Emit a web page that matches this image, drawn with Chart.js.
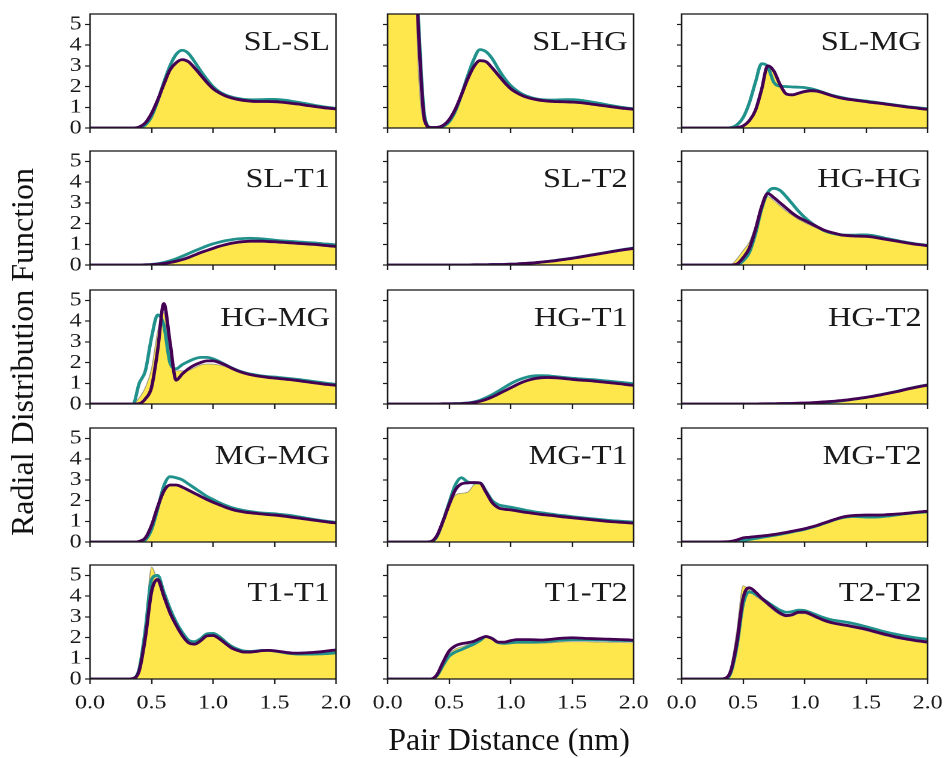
<!DOCTYPE html>
<html>
<head>
<meta charset="utf-8">
<script src="https://cdn.jsdelivr.net/npm/chart.js@4.4.1/dist/chart.umd.min.js"></script>
<style>
  html, body { margin: 0; padding: 0; background: #fff; width: 945px; height: 758px; overflow: hidden; }
  #fig { position: absolute; left: 0; top: 0; width: 788px; height: 758px; transform: scaleX(1.2); transform-origin: 0 0; }
  #fig canvas { position: absolute; }
  .title { position: absolute; font-family: "Liberation Serif", "Times New Roman", serif; font-size: 32px; line-height: 1; color: #111; white-space: nowrap; }
  #xtitle { left: 509px; top: 723px; transform: translateX(-50%); }
  #ytitle { left: 22px; top: 352px; transform: translate(-50%, -50%) rotate(-90deg); }
</style>
</head>
<body>
<div id="fig"></div>
<div class="title" id="xtitle">Pair Distance (nm)</div>
<div class="title" id="ytitle">Radial Distribution Function</div>
<script>
// ─── Data (pair distance grid, nm) ─────────────────────────────
const distances = [
  0.00, 0.05, 0.10, 0.15, 0.20, 0.25, 0.30, 0.35, 0.40, 0.45,
  0.50, 0.55, 0.60, 0.65, 0.70, 0.75, 0.80, 0.85, 0.90, 0.95,
  1.00, 1.05, 1.10, 1.15, 1.20, 1.25, 1.30, 1.35, 1.40, 1.45,
  1.50, 1.55, 1.60, 1.65, 1.70, 1.75, 1.80, 1.85, 1.90, 1.95, 2.00
];
const pairs = ['SL-SL', 'SL-HG', 'SL-MG', 'SL-T1', 'SL-T2', 'HG-HG', 'HG-MG', 'HG-T1', 'HG-T2',
               'MG-MG', 'MG-T1', 'MG-T2', 'T1-T1', 'T1-T2', 'T2-T2'];
const xTicks = [0.0, 0.5, 1.0, 1.5, 2.0];
const yTicks = [0, 1, 2, 3, 4, 5];

// SL-SL
const slSlYellow = [0,0,0,0,0,0,0,0,0.02,0.18, 0.6,1.3,2.05,2.75,3.1,3.25,3.15,2.85,2.5,2.17, 1.87,1.67,1.52,1.42,1.35,1.3,1.27,1.25,1.25,1.25, 1.24,1.22,1.19,1.15,1.12,1.07,1.03,0.99,0.95,0.92,0.89];
const slSlTeal   = [0,0,0,0,0,0,0,0,0.02,0.15, 0.55,1.3,2.2,3.0,3.55,3.75,3.6,3.2,2.75,2.35, 2.0,1.75,1.6,1.5,1.43,1.38,1.36,1.36,1.37,1.38, 1.38,1.36,1.33,1.28,1.23,1.18,1.12,1.07,1.02,0.98,0.95];
const slSlPurple = [0,0,0,0,0,0,0,0,0.05,0.25, 0.7,1.35,2.1,2.8,3.15,3.3,3.2,2.9,2.55,2.2, 1.9,1.7,1.55,1.45,1.38,1.33,1.3,1.28,1.28,1.28, 1.27,1.25,1.22,1.18,1.15,1.1,1.06,1.02,0.98,0.95,0.92];
// SL-HG
const slHgYellow = [12,12,12,12,12,2.8,0.2,0.01,0.03,0.12, 0.4,0.88,1.55,2.3,2.9,3.2,3.15,2.85,2.5,2.17, 1.87,1.67,1.52,1.42,1.35,1.3,1.27,1.25,1.24,1.23, 1.22,1.2,1.17,1.13,1.09,1.05,1.01,0.97,0.93,0.9,0.87];
const slHgTeal   = [12,12,12,12,12,5.3,0.6,0.03,0.02,0.08, 0.3,0.8,1.6,2.5,3.3,3.78,3.68,3.35,2.85,2.4, 2.05,1.8,1.62,1.5,1.42,1.37,1.35,1.35,1.36,1.37, 1.37,1.35,1.31,1.26,1.21,1.16,1.1,1.05,1.0,0.96,0.93];
const slHgPurple = [12,12,12,12,12,4.8,0.4,0.02,0.03,0.12, 0.4,0.9,1.6,2.35,2.95,3.25,3.2,2.9,2.55,2.2, 1.9,1.7,1.55,1.45,1.38,1.33,1.3,1.28,1.27,1.26, 1.25,1.23,1.2,1.16,1.12,1.08,1.04,1.0,0.96,0.93,0.9];
// SL-MG
const slMgYellow = [0,0,0,0,0,0,0,0,0,0, 0.05,0.3,0.8,1.8,2.9,2.65,2.0,1.58,1.55,1.62, 1.7,1.75,1.73,1.65,1.56,1.48,1.41,1.36,1.32,1.28, 1.24,1.2,1.17,1.13,1.09,1.05,1.01,0.97,0.94,0.9,0.87];
const slMgTeal   = [0,0,0,0,0,0,0,0,0.02,0.15, 0.5,1.2,2.2,3.1,2.95,2.2,2.02,2.0,1.98,1.97, 1.95,1.9,1.82,1.72,1.62,1.54,1.47,1.41,1.37,1.33, 1.3,1.26,1.22,1.18,1.14,1.1,1.06,1.02,0.99,0.96,0.93];
const slMgPurple = [0,0,0,0,0,0,0,0,0,0.02, 0.1,0.35,0.85,1.85,3.0,2.75,2.1,1.65,1.6,1.68, 1.76,1.8,1.78,1.7,1.6,1.51,1.44,1.39,1.35,1.31, 1.27,1.23,1.2,1.16,1.12,1.08,1.04,1.0,0.97,0.93,0.9];
// SL-T1
const slT1Yellow = [0,0,0,0,0,0,0,0,0,0, 0.02,0.04,0.07,0.12,0.18,0.26,0.36,0.48,0.6,0.7, 0.8,0.89,0.97,1.04,1.09,1.12,1.14,1.14,1.13,1.12, 1.1,1.08,1.06,1.04,1.02,1.0,0.98,0.96,0.93,0.9,0.87];
const slT1Teal   = [0,0,0,0,0,0,0,0,0,0.01, 0.03,0.06,0.12,0.2,0.3,0.42,0.55,0.68,0.8,0.92, 1.02,1.1,1.17,1.22,1.26,1.28,1.29,1.28,1.26,1.23, 1.2,1.17,1.15,1.13,1.11,1.09,1.07,1.05,1.02,1.0,0.97];
const slT1Purple = [0,0,0,0,0,0,0,0,0,0.01, 0.02,0.04,0.07,0.12,0.18,0.26,0.36,0.48,0.6,0.7, 0.8,0.9,0.98,1.05,1.1,1.13,1.15,1.15,1.15,1.13, 1.12,1.1,1.08,1.06,1.04,1.02,1.0,0.98,0.95,0.92,0.9];
// SL-T2
const slT2Yellow = [0,0,0,0,0,0,0,0,0,0, 0,0,0,0,0.01,0.01,0.01,0.01,0.02,0.02, 0.03,0.04,0.06,0.08,0.1,0.13,0.16,0.19,0.23,0.27, 0.31,0.35,0.4,0.45,0.5,0.55,0.6,0.64,0.68,0.72,0.76];
const slT2Teal   = [0,0,0,0,0,0,0,0,0,0, 0,0,0,0,0.01,0.01,0.01,0.02,0.02,0.03, 0.04,0.05,0.07,0.09,0.11,0.14,0.17,0.21,0.25,0.29, 0.33,0.38,0.43,0.48,0.53,0.58,0.63,0.68,0.73,0.78,0.82];
const slT2Purple = [0,0,0,0,0,0,0,0,0,0, 0,0,0,0,0.01,0.01,0.01,0.02,0.02,0.03, 0.04,0.05,0.07,0.09,0.11,0.14,0.17,0.2,0.24,0.28, 0.32,0.37,0.42,0.47,0.52,0.57,0.62,0.67,0.72,0.76,0.8];
// HG-HG
const hgHgYellow = [0,0,0,0,0,0,0,0,0.02,0.3, 0.7,1.1,1.9,2.9,3.3,3.1,2.85,2.6,2.4,2.2, 2.05,1.9,1.78,1.65,1.56,1.49,1.43,1.4,1.38,1.37, 1.36,1.33,1.28,1.23,1.18,1.13,1.08,1.03,0.98,0.95,0.91];
const hgHgTeal   = [0,0,0,0,0,0,0,0,0,0.02, 0.2,0.6,1.5,2.7,3.5,3.7,3.6,3.3,2.95,2.6, 2.3,2.05,1.85,1.68,1.57,1.5,1.45,1.44,1.44,1.45, 1.45,1.42,1.37,1.3,1.24,1.18,1.12,1.07,1.02,0.98,0.95];
const hgHgPurple = [0,0,0,0,0,0,0,0,0,0.05, 0.35,0.8,1.7,2.8,3.45,3.25,3.0,2.75,2.5,2.3, 2.15,2.0,1.85,1.7,1.6,1.52,1.45,1.42,1.4,1.39, 1.38,1.35,1.3,1.25,1.2,1.15,1.1,1.05,1.0,0.97,0.93];
// HG-MG
const hgMgYellow = [0,0,0,0,0,0,0,0,0.3,0.8, 1.7,3.5,4.4,2.2,1.6,1.6,1.62,1.75,1.88,1.93, 1.92,1.88,1.8,1.7,1.58,1.48,1.4,1.34,1.3,1.26, 1.23,1.2,1.17,1.14,1.1,1.06,1.02,0.98,0.94,0.91,0.88];
const hgMgTeal   = [0,0,0,0,0,0,0,0,1.0,1.6, 3.2,4.3,3.8,2.0,1.7,1.9,2.05,2.18,2.25,2.25, 2.18,2.05,1.9,1.75,1.62,1.52,1.45,1.4,1.35,1.32, 1.3,1.27,1.24,1.21,1.18,1.14,1.1,1.06,1.02,0.98,0.95];
const hgMgPurple = [0,0,0,0,0,0,0,0,0.02,0.25, 0.8,2.6,4.85,3.0,1.15,1.45,1.7,1.88,2.0,2.08, 2.08,2.0,1.88,1.73,1.6,1.5,1.42,1.36,1.32,1.28, 1.25,1.22,1.19,1.16,1.12,1.08,1.04,1.0,0.96,0.93,0.9];
// HG-T1
const hgT1Yellow = [0,0,0,0,0,0,0,0,0,0, 0.01,0.01,0.02,0.04,0.07,0.13,0.22,0.34,0.48,0.63, 0.78,0.92,1.04,1.14,1.21,1.25,1.26,1.25,1.23,1.2, 1.17,1.14,1.12,1.1,1.07,1.04,1.01,0.98,0.95,0.91,0.88];
const hgT1Teal   = [0,0,0,0,0,0,0,0,0,0.01, 0.01,0.02,0.03,0.05,0.1,0.18,0.3,0.45,0.62,0.8, 0.98,1.13,1.24,1.32,1.36,1.37,1.36,1.33,1.3,1.27, 1.24,1.22,1.2,1.18,1.16,1.13,1.1,1.07,1.04,1.01,0.98];
const hgT1Purple = [0,0,0,0,0,0,0,0,0,0.01, 0.01,0.01,0.02,0.04,0.07,0.13,0.22,0.34,0.48,0.63, 0.78,0.93,1.06,1.16,1.23,1.27,1.28,1.27,1.25,1.22, 1.19,1.16,1.14,1.12,1.09,1.06,1.03,1.0,0.97,0.93,0.9];
// HG-T2
const hgT2Yellow = [0,0,0,0,0,0,0,0,0,0, 0,0,0,0,0,0.01,0.01,0.01,0.02,0.02, 0.02,0.03,0.04,0.06,0.08,0.1,0.13,0.16,0.2,0.24, 0.28,0.33,0.38,0.44,0.5,0.56,0.62,0.69,0.75,0.8,0.85];
const hgT2Teal   = [0,0,0,0,0,0,0,0,0,0, 0,0,0,0,0.01,0.01,0.01,0.02,0.02,0.03, 0.03,0.04,0.05,0.07,0.09,0.12,0.15,0.19,0.23,0.27, 0.32,0.37,0.43,0.49,0.55,0.61,0.68,0.75,0.81,0.87,0.92];
const hgT2Purple = [0,0,0,0,0,0,0,0,0,0, 0,0,0,0.01,0.01,0.01,0.02,0.02,0.03,0.04, 0.05,0.06,0.08,0.1,0.12,0.14,0.17,0.2,0.24,0.28, 0.32,0.37,0.42,0.48,0.54,0.6,0.67,0.74,0.8,0.86,0.91];
// MG-MG
const mgMgYellow = [0,0,0,0,0,0,0,0,0.01,0.12, 0.7,1.6,2.4,2.7,2.72,2.62,2.47,2.32,2.17,2.02, 1.89,1.77,1.65,1.55,1.47,1.42,1.38,1.35,1.32,1.29, 1.27,1.24,1.2,1.16,1.12,1.08,1.04,1.0,0.96,0.92,0.89];
const mgMgTeal   = [0,0,0,0,0,0,0,0,0.01,0.1, 0.6,1.6,2.7,3.15,3.1,3.0,2.8,2.6,2.4,2.2, 2.05,1.9,1.77,1.66,1.58,1.52,1.47,1.43,1.4,1.38, 1.36,1.33,1.3,1.26,1.21,1.16,1.11,1.06,1.02,0.98,0.95];
const mgMgPurple = [0,0,0,0,0,0,0,0,0.03,0.2, 0.8,1.7,2.45,2.75,2.75,2.65,2.5,2.35,2.2,2.05, 1.92,1.8,1.68,1.58,1.5,1.45,1.41,1.38,1.35,1.32, 1.3,1.27,1.23,1.19,1.15,1.11,1.07,1.03,0.99,0.95,0.92];
// MG-T1
const mgT1Yellow = [0,0,0,0,0,0,0,0.01,0.25,0.9, 1.7,2.25,2.35,2.4,2.75,2.9,2.45,1.9,1.62,1.55, 1.53,1.48,1.43,1.39,1.35,1.31,1.28,1.25,1.21,1.18, 1.15,1.12,1.09,1.06,1.03,1.0,0.97,0.95,0.93,0.91,0.89];
const mgT1Teal   = [0,0,0,0,0,0,0,0.01,0.25,1.0, 1.9,2.75,3.1,2.9,2.85,2.85,2.45,2.0,1.8,1.73, 1.68,1.62,1.56,1.5,1.45,1.41,1.37,1.33,1.29,1.26, 1.22,1.19,1.16,1.13,1.1,1.07,1.04,1.02,1.0,0.98,0.96];
const mgT1Purple = [0,0,0,0,0,0,0,0.02,0.3,1.0, 1.8,2.5,2.8,2.85,2.87,2.85,2.4,1.9,1.65,1.58, 1.55,1.5,1.45,1.41,1.37,1.33,1.3,1.27,1.23,1.2, 1.17,1.14,1.11,1.08,1.05,1.02,0.99,0.97,0.95,0.93,0.91];
// MG-T2
const mgT2Yellow = [0,0,0,0,0,0,0,0,0.01,0.02, 0.05,0.1,0.15,0.2,0.25,0.3,0.35,0.41,0.47,0.53, 0.59,0.67,0.76,0.86,0.96,1.06,1.14,1.19,1.21,1.2, 1.18,1.18,1.19,1.22,1.25,1.28,1.32,1.35,1.38,1.4,1.42];
const mgT2Teal   = [0,0,0,0,0,0,0,0,0.01,0.03, 0.07,0.12,0.17,0.22,0.27,0.32,0.37,0.43,0.49,0.55, 0.61,0.69,0.78,0.88,0.98,1.08,1.16,1.21,1.23,1.22, 1.2,1.2,1.21,1.24,1.27,1.31,1.35,1.38,1.41,1.43,1.45];
const mgT2Purple = [0,0,0,0,0,0,0,0.01,0.03,0.1, 0.2,0.23,0.26,0.29,0.32,0.36,0.41,0.46,0.52,0.58, 0.64,0.72,0.8,0.9,1.0,1.1,1.19,1.25,1.28,1.29, 1.3,1.3,1.3,1.31,1.33,1.35,1.37,1.4,1.43,1.46,1.48];
// T1-T1
const t1T1Yellow = [0,0,0,0,0,0,0,0.02,0.5,2.6, 5.4,4.7,3.9,3.2,2.6,2.1,1.75,1.68,1.85,2.05, 2.08,1.95,1.72,1.5,1.38,1.3,1.3,1.32,1.36,1.37, 1.34,1.3,1.25,1.21,1.19,1.18,1.18,1.18,1.19,1.2,1.21];
const t1T1Teal   = [0,0,0,0,0,0,0,0.02,0.5,2.4, 4.8,5.0,4.2,3.4,2.75,2.25,1.88,1.8,1.95,2.18, 2.2,2.05,1.8,1.58,1.44,1.35,1.33,1.35,1.38,1.38, 1.35,1.3,1.25,1.22,1.2,1.2,1.2,1.21,1.22,1.24,1.26];
const t1T1Purple = [0,0,0,0,0,0,0,0.03,0.4,2.0, 4.2,4.8,4.0,3.2,2.6,2.1,1.75,1.68,1.85,2.08, 2.1,1.95,1.72,1.5,1.38,1.3,1.3,1.33,1.37,1.38, 1.36,1.32,1.28,1.25,1.25,1.26,1.28,1.3,1.33,1.37,1.4];
// T1-T2
const t1T2Yellow = [0,0,0,0,0,0,0,0,0.2,0.75, 1.2,1.45,1.55,1.65,1.75,1.9,2.0,1.9,1.72,1.68, 1.7,1.72,1.72,1.72,1.72,1.73,1.74,1.76,1.78,1.8, 1.8,1.8,1.8,1.79,1.78,1.78,1.77,1.76,1.76,1.75,1.75];
const t1T2Teal   = [0,0,0,0,0,0,0,0,0.15,0.65, 1.1,1.3,1.42,1.55,1.68,1.85,2.05,1.95,1.75,1.72, 1.75,1.78,1.78,1.78,1.78,1.79,1.81,1.84,1.87,1.89, 1.9,1.9,1.9,1.89,1.88,1.88,1.87,1.86,1.86,1.85,1.85];
const t1T2Purple = [0,0,0,0,0,0,0,0,0.2,0.8, 1.35,1.6,1.7,1.75,1.82,1.95,2.05,1.95,1.78,1.78, 1.85,1.9,1.9,1.9,1.89,1.88,1.9,1.93,1.96,1.98, 1.99,1.98,1.96,1.95,1.94,1.93,1.92,1.91,1.9,1.89,1.87];
// T2-T2
const t2T2Yellow = [0,0,0,0,0,0,0,0.03,0.6,2.4, 4.5,4.3,4.0,3.8,3.55,3.3,3.1,3.0,3.05,3.15, 3.15,3.05,2.92,2.8,2.7,2.63,2.57,2.52,2.46,2.4, 2.33,2.25,2.17,2.09,2.02,1.95,1.9,1.85,1.8,1.76,1.72];
const t2T2Teal   = [0,0,0,0,0,0,0,0.01,0.3,1.6, 3.6,4.2,4.1,3.9,3.7,3.5,3.32,3.22,3.25,3.32, 3.3,3.2,3.08,2.97,2.88,2.82,2.78,2.73,2.67,2.6, 2.52,2.44,2.36,2.28,2.21,2.15,2.09,2.04,1.99,1.95,1.92];
const t2T2Purple = [0,0,0,0,0,0,0,0.03,0.4,1.8, 3.9,4.4,4.2,3.9,3.65,3.4,3.18,3.06,3.1,3.22, 3.22,3.12,2.98,2.85,2.75,2.68,2.63,2.58,2.52,2.46, 2.4,2.32,2.24,2.16,2.09,2.02,1.96,1.91,1.86,1.82,1.78];

const series = [
  [slSlYellow, slSlTeal, slSlPurple], [slHgYellow, slHgTeal, slHgPurple], [slMgYellow, slMgTeal, slMgPurple],
  [slT1Yellow, slT1Teal, slT1Purple], [slT2Yellow, slT2Teal, slT2Purple], [hgHgYellow, hgHgTeal, hgHgPurple],
  [hgMgYellow, hgMgTeal, hgMgPurple], [hgT1Yellow, hgT1Teal, hgT1Purple], [hgT2Yellow, hgT2Teal, hgT2Purple],
  [mgMgYellow, mgMgTeal, mgMgPurple], [mgT1Yellow, mgT1Teal, mgT1Purple], [mgT2Yellow, mgT2Teal, mgT2Purple],
  [t1T1Yellow, t1T1Teal, t1T1Purple], [t1T2Yellow, t1T2Teal, t1T2Purple], [t2T2Yellow, t2T2Teal, t2T2Purple]
];

// ─── Layout (design units; #fig is stretched 1.2x horizontally) ──
const STRETCH = 1.2;
const COL_LEFT = [90, 387, 682].map(v => v / STRETCH);
const ROW_TOP = [14, 151, 290, 428, 565];
const PLOT_W = 246 / STRETCH;
const PLOT_H = 114;
const PAD_L = 45, PAD_T = 16, PAD_R = 30, PAD_B = 44;

const YELLOW = '#fde74c';
const TEAL = '#21918c';
const PURPLE = '#440154';
const INK = '#1a1a1a';
const SERIF = "'Liberation Serif', 'Times New Roman', serif";

const toPoints = vals => vals.map((v, i) => ({ x: distances[i], y: v }));

// frame + pair label
const panelPlugin = {
  id: 'panelFrame',
  afterDatasetsDraw(chart, args, opts) {
    const { ctx, chartArea: a } = chart;
    ctx.save();
    ctx.strokeStyle = INK;
    ctx.lineWidth = 1.3;
    ctx.strokeRect(a.left, a.top, a.right - a.left, a.bottom - a.top);
    ctx.font = `27px ${SERIF}`;
    ctx.fillStyle = INK;
    ctx.textAlign = 'right';
    ctx.textBaseline = 'alphabetic';
    ctx.fillText(opts.label, a.right - 5, a.top + 36);
    ctx.restore();
  }
};

const fig = document.getElementById('fig');

pairs.forEach((name, i) => {
  const row = Math.floor(i / 3), col = i % 3;
  const [yellow, teal, purple] = series[i];
  const canvas = document.createElement('canvas');
  const w = PAD_L + PLOT_W + PAD_R, h = PAD_T + PLOT_H + PAD_B;
  canvas.width = w;
  canvas.height = h;
  canvas.style.left = (COL_LEFT[col] - PAD_L) + 'px';
  canvas.style.top = (ROW_TOP[row] - PAD_T) + 'px';
  canvas.style.width = w + 'px';
  canvas.style.height = h + 'px';
  fig.appendChild(canvas);

  const line = (data, color) => ({
    data: toPoints(data),
    borderColor: color,
    borderWidth: 2.8,
    pointRadius: 0,
    fill: false,
    cubicInterpolationMode: 'monotone'
  });

  new Chart(canvas, {
    type: 'line',
    data: {
      datasets: [
        line(purple, PURPLE),
        line(teal, TEAL),
        {
          data: toPoints(yellow),
          borderColor: 'rgba(120,120,120,0.7)',
          borderWidth: 0.8,
          backgroundColor: YELLOW,
          pointRadius: 0,
          fill: 'origin',
          cubicInterpolationMode: 'monotone'
        }
      ]
    },
    options: {
      responsive: false,
      animation: false,
      devicePixelRatio: 2,
      events: [],
      layout: { padding: { top: PAD_T, right: PAD_R, left: 0, bottom: 0 } },
      plugins: {
        legend: { display: false },
        tooltip: { enabled: false },
        panelFrame: { label: name }
      },
      scales: {
        x: {
          type: 'linear',
          min: 0, max: 2,
          afterBuildTicks: ax => { ax.ticks = xTicks.map(v => ({ value: v })); },
          afterFit: ax => { ax.height = PAD_B; },
          border: { display: false },
          grid: { drawOnChartArea: false, drawTicks: true, tickLength: 5, tickColor: INK, tickWidth: 1.2 },
          ticks: {
            display: row === 4,
            autoSkip: false,
            padding: 7,
            color: INK,
            font: { family: SERIF, size: 20 },
            maxRotation: 0,
            callback: v => v.toFixed(1)
          }
        },
        y: {
          min: 0, max: 5.5,
          afterBuildTicks: ax => { ax.ticks = yTicks.map(v => ({ value: v })); },
          afterFit: ax => { ax.width = PAD_L; },
          border: { display: false },
          grid: { drawOnChartArea: false, drawTicks: true, tickLength: 4, tickColor: INK, tickWidth: 1.2 },
          ticks: {
            display: col === 0,
            autoSkip: false,
            padding: 3,
            color: INK,
            font: { family: SERIF, size: 20 },
            callback: v => String(v)
          }
        }
      }
    },
    plugins: [panelPlugin]
  });
});
</script>
</body>
</html>
